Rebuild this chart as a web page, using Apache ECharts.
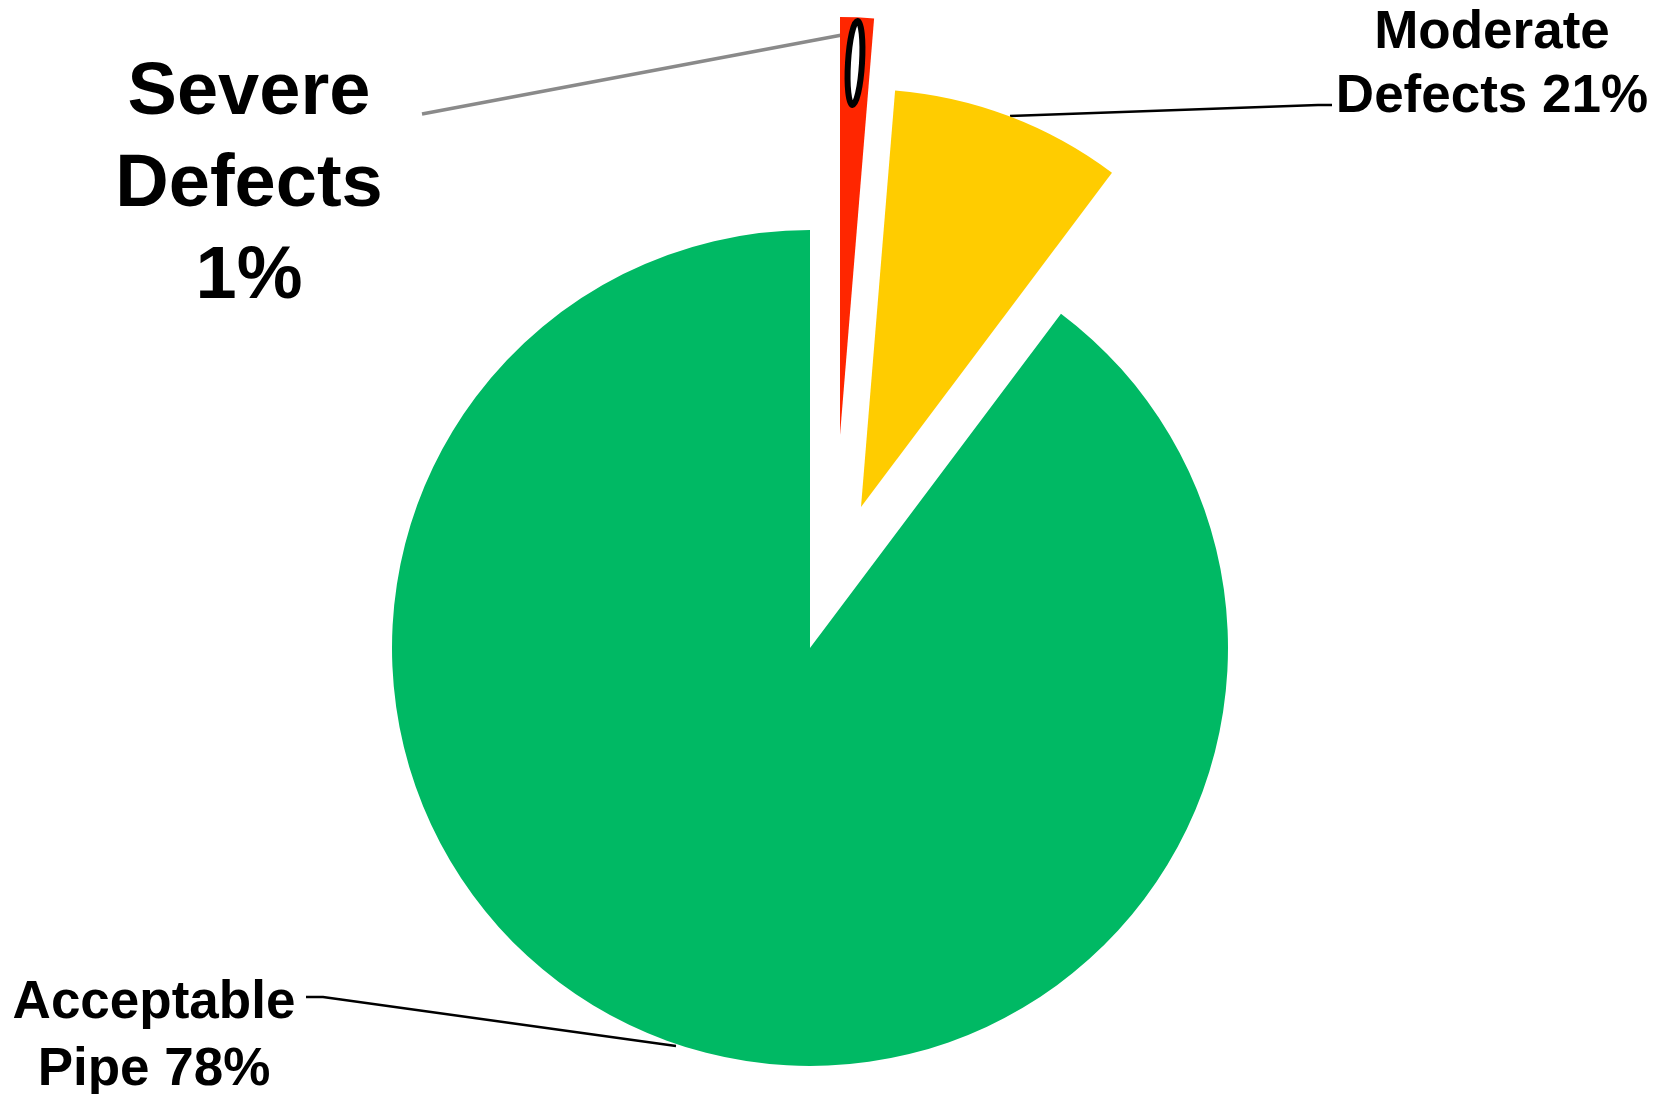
<!DOCTYPE html>
<html>
<head>
<meta charset="utf-8">
<script src="https://cdn.jsdelivr.net/npm/echarts@6/dist/echarts.min.js"></script>
<style>
html,body{margin:0;padding:0;background:#fff;}
#chart{width:1662px;height:1094px;}
</style>
</head>
<body>
<div id="chart"></div>
<script>
// ---- data ----
const categories = ['Severe Defects', 'Moderate Defects', 'Acceptable Pipe'];
const values = [1.3, 8.95, 89.75];            // slice sizes as drawn (angles)
const labelTexts = ['Severe\nDefects\n1%', 'Moderate\nDefects 21%', 'Acceptable\nPipe 78%'];
const colors = ['#FF2600', '#FFCC00', '#00B964'];

// ---- layout (per-slice explode centres, label positions) ----
const R = 418;
const centers = [[840, 435], [861, 507], [810, 648]];
const labelPos = [[249, 186], [1492, 65], [154, 1037]];
const labelFont = [74, 53, 53];
const labelLH = [92, 64, 67];
const linePts = [
  [[422, 114], [842, 35]],
  [[1010, 116], [1318, 105], [1332, 105]],
  [[676, 1046], [323, 997], [306, 997]]
];
const lineColor = ['#8a8a8a', '#000', '#000'];
const lineWidth = [3.5, 2.5, 2.5];

const series = categories.map(function (cat, k) {
  return {
    type: 'pie',
    radius: R,
    center: centers[k],
    startAngle: 90,
    clockwise: true,
    avoidLabelOverlap: false,
    silent: true,
    animation: false,
    z: 2,
    emphasis: { disabled: true },
    data: categories.map(function (c, i) {
      const own = i === k;
      return {
        name: c,
        value: values[i],
        itemStyle: { color: own ? colors[i] : 'rgba(0,0,0,0)', borderWidth: 0 },
        label: {
          show: own,
          position: 'outside',
          formatter: labelTexts[i],
          fontFamily: 'Liberation Sans, Arial, sans-serif',
          fontWeight: 'bold',
          fontSize: labelFont[i],
          lineHeight: labelLH[i],
          color: '#000',
          align: 'center'
        },
        labelLine: {
          show: own,
          smooth: false,
          lineStyle: { color: lineColor[i], width: lineWidth[i] }
        }
      };
    }),
    labelLayout: function (params) {
      const i = params.dataIndex;
      return {
        x: labelPos[i][0],
        y: labelPos[i][1],
        align: 'center',
        verticalAlign: 'middle',
        labelLinePoints: linePts[i]
      };
    }
  };
});

const chart = echarts.init(document.getElementById('chart'), null, { renderer: 'canvas' });
chart.setOption({
  backgroundColor: '#ffffff',
  animation: false,
  series: series,
  graphic: [{
    type: 'ellipse',
    x: 855, y: 63,
    rotation: -0.06,
    shape: { cx: 0, cy: 0, rx: 7, ry: 42 },
    style: { fill: '#ffffff', stroke: '#000000', lineWidth: 6 },
    z: 10
  }]
});
</script>
</body>
</html>
